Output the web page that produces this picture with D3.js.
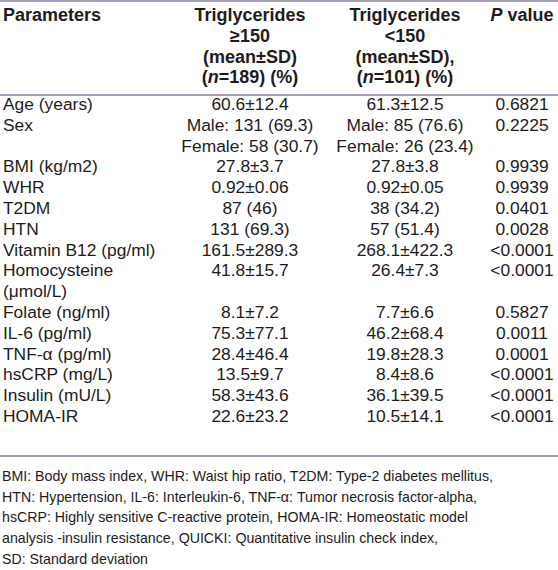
<!DOCTYPE html>
<html><head><meta charset="utf-8">
<script src="https://cdn.jsdelivr.net/npm/d3@7"></script>
<style>html,body{margin:0;padding:0;background:#fff;}</style>
</head><body>
<svg id="t" width="558" height="570"></svg>
<script>
// ---- data ----
const parameters = ["Age (years)", "Sex", "BMI (kg/m2)", "WHR", "T2DM", "HTN", "Vitamin B12 (pg/ml)",
  "Homocysteine|(\u03bcmol/L)", "Folate (ng/ml)", "IL-6 (pg/ml)", "TNF-\u03b1 (pg/ml)", "hsCRP (mg/L)", "Insulin (mU/L)", "HOMA-IR"];
const tgHigh = ["60.6\u00b112.4", "Male: 131 (69.3)|Female: 58 (30.7)", "27.8\u00b13.7", "0.92\u00b10.06", "87 (46)", "131 (69.3)",
  "161.5\u00b1289.3", "41.8\u00b115.7", "8.1\u00b17.2", "75.3\u00b177.1", "28.4\u00b146.4", "13.5\u00b19.7", "58.3\u00b143.6", "22.6\u00b123.2"];
const tgLow = ["61.3\u00b112.5", "Male: 85 (76.6)|Female: 26 (23.4)", "27.8\u00b13.8", "0.92\u00b10.05", "38 (34.2)", "57 (51.4)",
  "268.1\u00b1422.3", "26.4\u00b17.3", "7.7\u00b16.6", "46.2\u00b168.4", "19.8\u00b128.3", "8.4\u00b18.6", "36.1\u00b139.5", "10.5\u00b114.1"];
const pValues = ["0.6821", "0.2225", "0.9939", "0.9939", "0.0401", "0.0028", "<0.0001", "<0.0001", "0.5827", "0.0011",
  "0.0001", "<0.0001", "<0.0001", "<0.0001"];
const headers = [
  ["Parameters"],
  ["Triglycerides", "\u2265150", "(mean\u00b1SD)", "(*n*=189) (%)"],
  ["Triglycerides", "<150", "(mean\u00b1SD),", "(*n*=101) (%)"],
  ["*P* value"]
];
const footnote = [
  "BMI: Body mass index, WHR: Waist hip ratio, T2DM: Type-2 diabetes mellitus,",
  "HTN: Hypertension, IL-6: Interleukin-6, TNF-\u03b1: Tumor necrosis factor-alpha,",
  "hsCRP: Highly sensitive C-reactive protein, HOMA-IR: Homeostatic model",
  "analysis -insulin resistance, QUICKI: Quantitative insulin check index,",
  "SD: Standard deviation"
];

// ---- layout ----
const svg = d3.select("#t");
const W = 558;
const lineColor = "#8a7c9c";
const textColor = "#1e1b1c";
const font = "'Liberation Sans', Arial, Helvetica, sans-serif";
const colX = [3, 250, 405, 522];
const anchors = ["start", "middle", "middle", "middle"];
const lineH = 20.8;

// header
const hy = d3.scaleLinear().domain([0, 1]).range([21, 21 + lineH]);
function addRich(sel, str) {
  const parts = str.split("*");
  parts.forEach((p, i) => {
    if (p === "") return;
    sel.append("tspan").attr("font-style", i % 2 ? "italic" : "normal").text(p);
  });
}
headers.forEach((lines, c) => {
  lines.forEach((l, j) => {
    const t = svg.append("text").attr("x", colX[c]).attr("y", hy(j))
      .attr("text-anchor", anchors[c]).attr("font-family", font)
      .attr("font-weight", "bold").attr("font-size", 18).attr("fill", textColor);
    addRich(t, l);
  });
});

// body rows: compute line index per row
const cols = [parameters, tgHigh, tgLow, pValues];
let idx = 0;
const rowStart = [];
parameters.forEach((p, i) => {
  rowStart.push(idx);
  const n = Math.max(...cols.map(c => c[i].split("|").length));
  idx += n;
});
const totalLines = idx;
const by = d3.scaleLinear().domain([0, totalLines - 1]).range([110, 110 + lineH * (totalLines - 1)]);

cols.forEach((col, c) => {
  col.forEach((v, i) => {
    v.split("|").forEach((l, j) => {
      svg.append("text").attr("x", colX[c]).attr("y", by(rowStart[i] + j))
        .attr("text-anchor", anchors[c]).attr("font-family", font)
        .attr("font-size", 17.4).attr("fill", textColor).text(l);
    });
  });
});

// rules
const rules = [1, 95, 456];
svg.selectAll("line.rule").data(rules).enter().append("line")
  .attr("x1", 0).attr("x2", W).attr("y1", d => d).attr("y2", d => d)
  .attr("stroke", lineColor).attr("stroke-width", 1.3);

// footnote
const fy = d3.scaleLinear().domain([0, 1]).range([481, 481 + 20.7]);
footnote.forEach((l, j) => {
  svg.append("text").attr("x", 2).attr("y", fy(j)).attr("font-family", font)
    .attr("font-size", 14.2).attr("fill", textColor).text(l);
});
</script>
</body></html>
